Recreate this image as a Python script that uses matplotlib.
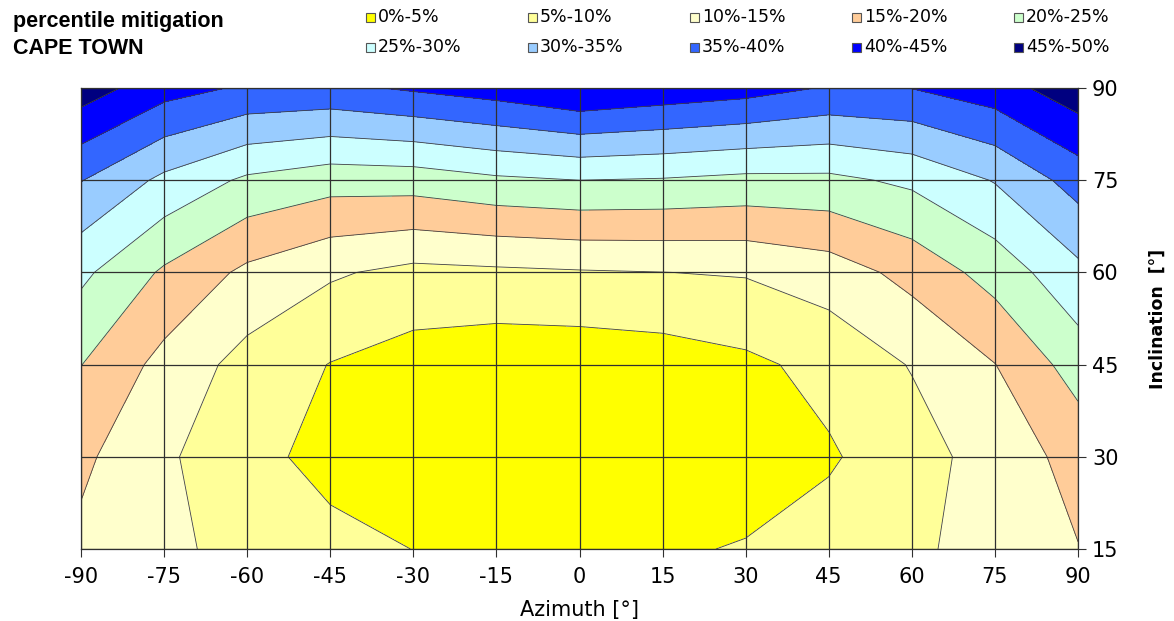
import numpy as np
import matplotlib
matplotlib.use('Agg')
import matplotlib.pyplot as plt
from matplotlib.patches import Rectangle

plt.rcParams['axes.unicode_minus'] = False

# Grid (values in %)
azimuth = [-90, -75, -60, -45, -30, -15, 0, 15, 30, 45, 60, 75, 90]
inclination = [15, 30, 45, 60, 75, 90]

incl_15 = [13.9, 11.0, 8.5, 6.42, 4.95, 3.8, 3.8, 4.64, 5.2, 6.99, 9.08, 12.0, 14.86]
incl_30 = [16.0, 10.8, 6.5, 3.46, 2.5, 1.5, 1.5, 2.2, 3.5, 4.45, 7.8, 12.3, 16.6]
incl_45 = [20.1, 13.4, 8.2, 4.85, 2.84, 1.69, 1.77, 2.45, 3.97, 6.47, 10.3, 14.9, 22.25]
incl_60 = [26.1, 19.26, 13.9, 10.64, 8.63, 9.1, 9.59, 9.95, 10.38, 12.42, 16.6, 22.0, 28.7]
incl_75 = [35.2, 28.85, 24.1, 22.06, 22.3, 24.1, 25.0, 24.6, 23.7, 23.8, 26.0, 30.3, 37.1]
incl_90 = [47.6, 42.0, 39.3, 38.8, 40.7, 42.5, 45.1, 43.5, 42.1, 39.6, 40.1, 42.8, 48.0]

levels = [0, 5, 10, 15, 20, 25, 30, 35, 40, 45, 50]
band_labels = ['0%-5%', '5%-10%', '10%-15%', '15%-20%', '20%-25%',
               '25%-30%', '30%-35%', '35%-40%', '40%-45%', '45%-50%']
band_colors = ['#FFFF00', '#FFFF99', '#FFFFCC', '#FFCC99', '#CCFFCC',
               '#CCFFFF', '#99CCFF', '#3366FF', '#0000FF', '#000080']

Z = np.array([incl_15, incl_30, incl_45, incl_60, incl_75, incl_90])
X, Y = np.meshgrid(azimuth, inclination)

fig = plt.figure(figsize=(11.74, 6.21), dpi=100)
ax = fig.add_axes([81 / 1174, 1 - 549 / 621, (1078 - 81) / 1174, (549 - 88) / 621])

ax.contourf(X, Y, Z, levels=levels, colors=band_colors)
ax.contour(X, Y, Z, levels=levels, colors='#404040', linewidths=0.6)

ax.set_xlim(-90, 90)
ax.set_ylim(15, 90)
ax.set_xticks(azimuth)
ax.set_yticks(inclination)
ax.grid(True, color='#303030', linewidth=0.9)
ax.set_axisbelow(False)

ax.yaxis.tick_right()
ax.yaxis.set_label_position('right')
ax.tick_params(axis='both', labelsize=15, direction='out', length=6, color='#303030')
ax.tick_params(axis='x', pad=7)
ax.tick_params(axis='y', pad=4)
for s in ax.spines.values():
    s.set_color('#303030')
    s.set_linewidth(0.9)

ax.set_xlabel('Azimuth [°]', fontsize=15, labelpad=9)
ax.set_ylabel('Inclination  [°]', fontsize=12.5, fontweight='bold', labelpad=22)

# Title
fig.text(13 / 1174, 1 - 21 / 621, 'percentile mitigation', fontsize=15.5,
         fontweight='bold', family='Liberation Sans', va='center')
fig.text(13 / 1174, 1 - 48 / 621, 'CAPE TOWN', fontsize=15.5,
         fontweight='bold', family='Liberation Sans', va='center')

# Legend, two rows of five
for i, (lab, col) in enumerate(zip(band_labels, band_colors)):
    c, r = i % 5, i // 5
    x0 = 366 + c * 162
    yc = 17 + r * 30
    fig.patches.append(Rectangle((x0 / 1174, 1 - (yc + 4.5) / 621), 9 / 1174, 9 / 621,
                                 facecolor=col, edgecolor='#555555', linewidth=0.8,
                                 transform=fig.transFigure))
    fig.text((x0 + 12) / 1174, 1 - yc / 621, lab, fontsize=12.5, va='center')

fig.savefig('out.png', dpi=100)
